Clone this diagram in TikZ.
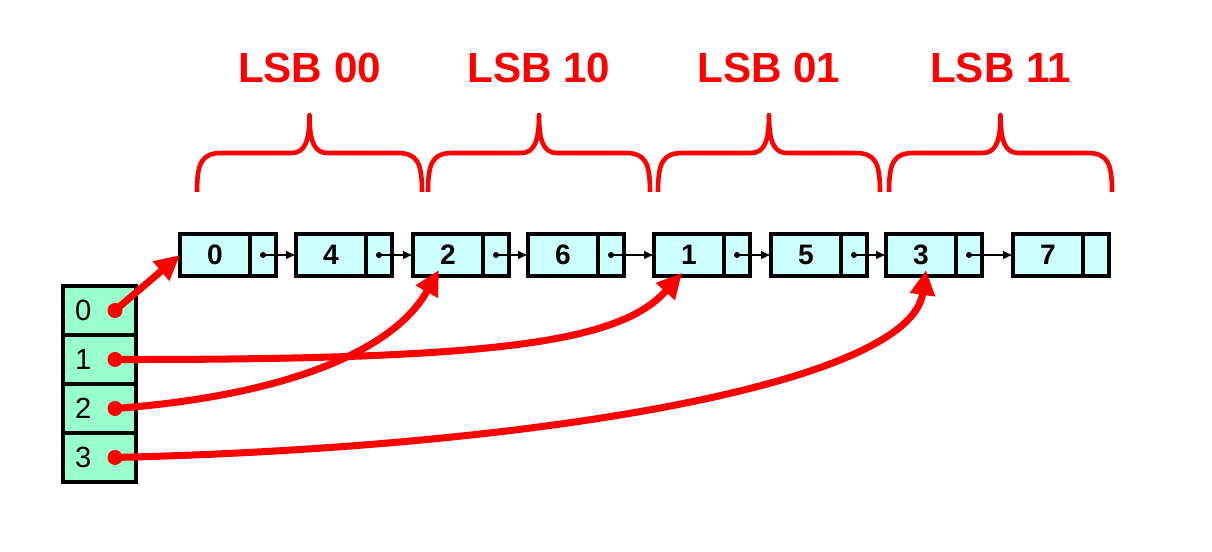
\documentclass[tikz,border=0pt]{standalone}
\usepackage{fontspec}
\setmainfont{Liberation Sans}
\usetikzlibrary{arrows.meta}
\definecolor{listcyan}{RGB}{204,255,255}
\definecolor{tablegreen}{RGB}{153,255,204}
\definecolor{hashred}{RGB}{255,0,0}

\begin{document}
\begin{tikzpicture}[
	datacell/.style={draw, line width=1.1pt, fill=listcyan, minimum width=0.70cm, minimum height=0.42cm, inner sep=0pt, outer sep=0pt, anchor=west, font=\fontsize{8}{9}\selectfont\bfseries},
	ptrcell/.style={draw, line width=1.1pt, fill=listcyan, minimum width=0.26cm, minimum height=0.42cm, inner sep=0pt, outer sep=0pt, anchor=west},
	tabcell/.style={draw, line width=1.1pt, fill=tablegreen, text width=0.49cm, inner xsep=0.12cm, inner ysep=0pt, minimum height=0.49cm, outer sep=0pt, align=left, font=\fontsize{8.3}{9}\selectfont},
	bucket/.style={hashred, line width=2pt, -{Triangle[length=2.5mm,width=2.4mm]}},
	lsblabel/.style={text=hashred, font=\fontsize{12}{14}\selectfont\bfseries}
]
	\useasboundingbox (0,0) rectangle (12.12,5.52);
	
	% hash table
	\foreach \i in {0,...,3} {
		\node[tabcell] (t\i) at (0.995, 2.415-0.49*\i) {\i};
		\coordinate (s\i) at ([xshift=0.52cm]t\i.west);
	}
	
	% list nodes
	\foreach \v/\x in {0/1.80, 4/2.96, 2/4.13, 6/5.28, 1/6.54, 5/7.71, 3/8.86, 7/10.13} {
		\node[datacell] (d\v) at (\x, 2.97) {\v};
		\node[ptrcell] (p\v) at (d\v.east) {};
	}
	
	\foreach \a/\b in {0/4, 4/2, 2/6, 6/1, 1/5, 5/3, 3/7} {
		\fill (p\a.center) circle (0.03);
		\draw[line width=0.55pt, -{Latex[length=1mm,width=0.9mm]}] (p\a.center) -- (d\b.west);
	}
	
	% braces
	\foreach \i/\a/\b/\t in {0/1.97/4.22/LSB 00, 1/4.28/6.50/LSB 10, 2/6.58/8.80/LSB 01, 3/8.89/11.12/LSB 11} {
		\pgfmathsetmacro{\m}{(\a+\b)/2}
		\draw[hashred, line width=1.3pt, line join=round] (\a,3.60) .. controls (\a,3.90) and (\a+0.05,3.99) .. (\a+0.25,3.99) -- (\m-0.18,3.99) .. controls (\m-0.05,3.99) and (\m,4.10) .. (\m,4.37) .. controls (\m,4.10) and (\m+0.05,3.99) .. (\m+0.18,3.99) -- (\b-0.25,3.99) .. controls (\b-0.05,3.99) and (\b,3.90) .. (\b,3.60);
		\node[lsblabel] (lsb\i) at (\m, 4.84) {\t};
	}
	
	% buckets
	\draw[bucket] (s0) -- (d0.west);
	\draw[bucket] (s1) .. controls (5.0,1.92) and (6.2,2.10) .. ([xshift=-0.07cm,yshift=0.03cm]d1.south);
	\draw[bucket] (s2) .. controls (2.7,1.55) and (3.9,1.95) .. ([xshift=-0.09cm,yshift=0.06cm]d2.south);
	\draw[bucket] (s3) .. controls (5.5,1.05) and (9.1,1.70) .. ([xshift=0.05cm,yshift=0.06cm]d3.south);
	\foreach \i in {0,...,3}
		\fill[hashred] (s\i) circle (0.075);
\end{tikzpicture}
\end{document}
